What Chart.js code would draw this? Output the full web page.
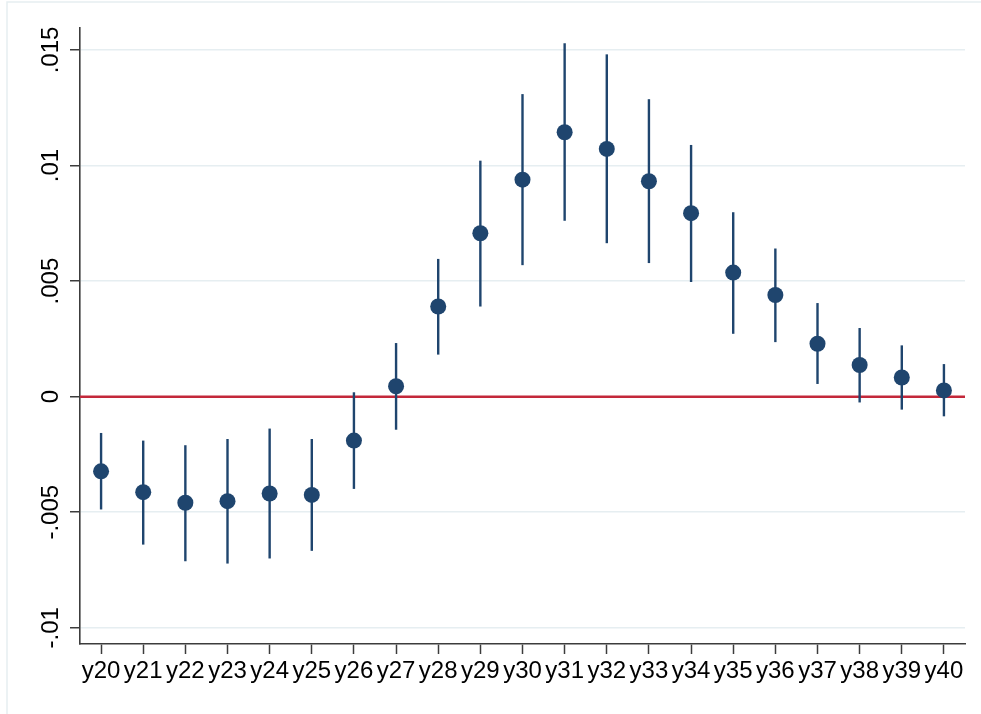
<!DOCTYPE html>
<html>
<head>
<meta charset="utf-8">
<script src="https://cdn.jsdelivr.net/npm/chart.js@4.4.0/dist/chart.umd.min.js"></script>
<style>
html, body { margin:0; padding:0; background:#fff; }
#wrap { width:981px; height:714px; }
</style>
</head>
<body>
<div id="wrap"><canvas id="coefChart" width="981" height="714"></canvas></div>
<script>
// event-time coefficients with 95% CI
var years = ['y20','y21','y22','y23','y24','y25','y26','y27','y28','y29','y30',
             'y31','y32','y33','y34','y35','y36','y37','y38','y39','y40'];
var coef = [-0.00323, -0.00413, -0.00459, -0.00452, -0.00419, -0.00425, -0.0019,
            0.00045, 0.0039, 0.00707, 0.00939, 0.01144, 0.01072, 0.00932,
            0.00794, 0.00537, 0.0044, 0.00229, 0.00137, 0.00083, 0.00027];
var ciLow = [-0.00488, -0.0064, -0.00712, -0.00722, -0.0070, -0.00667, -0.00399,
             -0.00143, 0.00182, 0.0039, 0.00569, 0.00761, 0.00664, 0.00578,
             0.00496, 0.00272, 0.00236, 0.00055, -0.00025, -0.00056, -0.00085];
var ciHigh = [-0.00157, -0.0019, -0.0021, -0.00183, -0.00138, -0.00183, 0.00019,
              0.00232, 0.00596, 0.01021, 0.01309, 0.01529, 0.01481, 0.01287,
              0.01089, 0.00798, 0.00641, 0.00405, 0.00297, 0.00222, 0.00141];
var yTicks = [-0.01, -0.005, 0, 0.005, 0.01, 0.015];
var yTickLabels = ['-.01', '-.005', '0', '.005', '.01', '.015'];

var navy = '#1f456e';
var axisCol = '#3c3c3c';
var gridCol = '#e6eef1';
var fontFam = '"Liberation Sans", Arial, Helvetica, sans-serif';

var ciPlugin = {
  id: 'ciBars',
  beforeDatasetsDraw: function(chart) {
    var ctx = chart.ctx, xs = chart.scales.x, ys = chart.scales.y, a = chart.chartArea;
    ctx.save();
    // zero reference line
    var y0 = ys.getPixelForValue(0);
    ctx.strokeStyle = '#c3283a';
    ctx.lineWidth = 2.4;
    ctx.beginPath();
    ctx.moveTo(a.left, y0);
    ctx.lineTo(a.right, y0);
    ctx.stroke();
    // confidence intervals
    ctx.strokeStyle = navy;
    ctx.lineWidth = 2.4;
    for (var i = 0; i < years.length; i++) {
      var x = xs.getPixelForValue(i);
      ctx.beginPath();
      ctx.moveTo(x, ys.getPixelForValue(ciLow[i]));
      ctx.lineTo(x, ys.getPixelForValue(ciHigh[i]));
      ctx.stroke();
    }
    ctx.restore();
  },
  afterDraw: function(chart) {
    var ctx = chart.ctx, ys = chart.scales.y;
    ctx.save();
    // outer graph frame (only top/left visible)
    ctx.strokeStyle = gridCol;
    ctx.lineWidth = 1.5;
    ctx.beginPath();
    ctx.moveTo(7, 714);
    ctx.lineTo(7, 2);
    ctx.lineTo(981, 2);
    ctx.stroke();
    // rotated y tick labels
    ctx.fillStyle = '#000';
    ctx.font = '24px ' + fontFam;
    ctx.textAlign = 'center';
    ctx.textBaseline = 'middle';
    for (var i = 0; i < yTicks.length; i++) {
      ctx.save();
      ctx.translate(51, ys.getPixelForValue(yTicks[i]));
      ctx.rotate(-Math.PI / 2);
      ctx.fillText(yTickLabels[i], 0, 0);
      ctx.restore();
    }
    ctx.restore();
  }
};

var ctx = document.getElementById('coefChart');
var coefChart = new Chart(ctx, {
  type: 'line',
  data: {
    labels: years,
    datasets: [{
      data: coef,
      showLine: false,
      pointRadius: 8,
      pointBorderWidth: 0,
      pointBackgroundColor: navy,
      pointBorderColor: navy
    }]
  },
  options: {
    responsive: false,
    animation: false,
    events: [],
    layout: { padding: { left: 0, right: 16, top: 28, bottom: 0 } },
    scales: {
      x: {
        offset: true,
        grid: { drawOnChartArea: false, tickLength: 10, tickColor: axisCol, tickWidth: 1.5 },
        border: { color: axisCol, width: 1.6 },
        ticks: { color: '#000', font: { family: fontFam, size: 24 }, padding: 3, maxRotation: 0, autoSkip: false },
        afterFit: function(s) { s.height = 70; }
      },
      y: {
        min: -0.0107,
        max: 0.01595,
        afterBuildTicks: function(s) { s.ticks = yTicks.map(function(v) { return { value: v }; }); },
        grid: { color: gridCol, lineWidth: 1.5, tickLength: 10, tickColor: axisCol, tickWidth: 1.5 },
        border: { color: axisCol, width: 1.6 },
        ticks: { display: false },
        afterFit: function(s) { s.width = 80; }
      }
    },
    plugins: {
      legend: { display: false },
      tooltip: { enabled: false }
    }
  },
  plugins: [ciPlugin]
});
</script>
</body>
</html>
